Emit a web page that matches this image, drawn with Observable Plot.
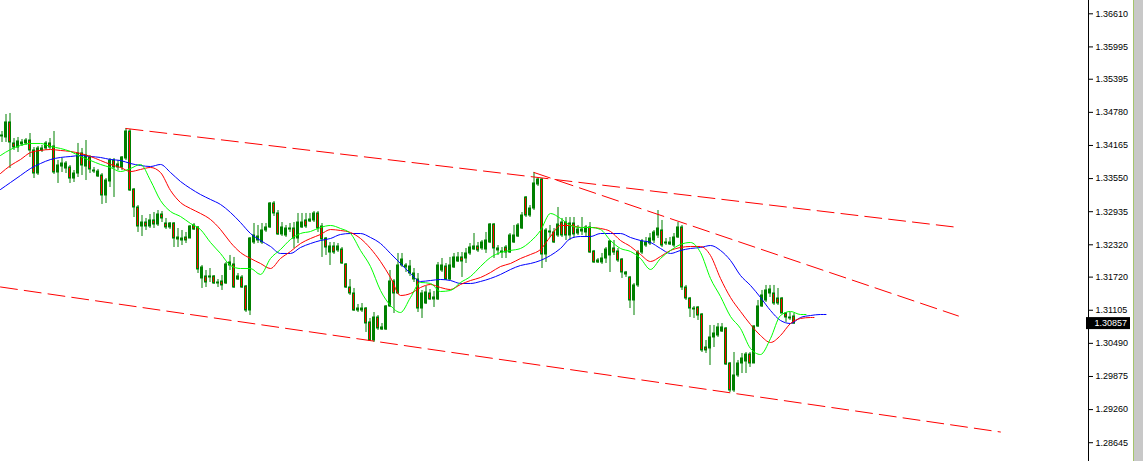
<!DOCTYPE html>
<html><head><meta charset="utf-8">
<script src="https://cdn.jsdelivr.net/npm/d3@7"></script>
<script src="https://cdn.jsdelivr.net/npm/@observablehq/plot@0.6"></script>
<style>
html,body{margin:0;padding:0;background:#fff;}
#wrap{position:relative;width:1143px;height:461px;overflow:hidden;}
#edge{position:absolute;left:1133px;top:0;width:9px;height:461px;background:#c8c8c8;border-left:1px solid #a4c46c;}
</style></head><body><div id="wrap"><div id="edge"></div></div>
<script>
// ---- Candles (bar index 0..198), prices ----
const open = [1.34332,1.34313,1.34592,1.34202,1.34127,1.34183,1.34202,1.34257,1.34072,1.33644,
1.34072,1.34109,1.34202,1.34146,1.33663,1.33774,1.33737,1.33756,1.33551,1.33644,
1.34016,1.33774,1.33942,1.33700,1.33589,1.33607,1.33236,1.33496,1.33886,1.33756,
1.33756,1.33923,1.34424,1.33347,1.33013,1.32660,1.32734,1.32660,1.32772,1.32697,
1.32883,1.32716,1.32642,1.32716,1.32419,1.32437,1.32456,1.32437,1.32679,1.32642,
1.31695,1.31732,1.31713,1.31732,1.31602,1.31639,1.31602,1.31936,1.31955,1.31676,
1.31713,1.31546,1.31100,1.32363,1.32400,1.32363,1.32586,1.32642,1.33087,1.32902,
1.32512,1.32493,1.32604,1.32623,1.32437,1.32642,1.32772,1.32753,1.32772,1.32902,
1.32660,1.32437,1.32177,1.32289,1.32215,1.32233,1.31955,1.31527,1.31416,1.31100,
1.31137,1.31137,1.30878,1.30543,1.30970,1.30747,1.30747,1.31175,1.31639,1.31416,
1.31936,1.31936,1.31787,1.31676,1.31676,1.31137,1.31230,1.31416,1.31305,1.31305,
1.31843,1.31917,1.31676,1.31899,1.32010,1.32085,1.32066,1.32159,1.32233,1.32289,
1.32252,1.32233,1.32363,1.32697,1.32215,1.32177,1.32270,1.32177,1.32363,1.32474,
1.32623,1.33199,1.32864,1.32994,1.33440,1.33533,1.32140,1.32567,1.32549,1.32493,
1.32734,1.32734,1.32493,1.32716,1.32530,1.32567,1.32549,1.32642,1.32196,1.31992,
1.31992,1.32066,1.32122,1.32252,1.32196,1.32047,1.31806,1.31713,1.31286,1.31565,
1.32177,1.32307,1.32344,1.32400,1.32493,1.32586,1.32344,1.32363,1.32307,1.32456,
1.32642,1.31527,1.31323,1.31137,1.31156,1.31026,1.30413,1.30395,1.30599,1.30636,
1.30710,1.30766,1.30116,1.29615,1.29893,1.30116,1.30153,1.30283,1.30116,1.30803,
1.31175,1.31286,1.31416,1.31416,1.31323,1.31323,1.31044,1.30970,1.30989];
const high = [1.34424,1.34740,1.34759,1.34294,1.34313,1.34276,1.34294,1.34387,1.34127,1.34146,
1.34164,1.34239,1.34294,1.34424,1.33886,1.33923,1.33867,1.33793,1.33700,1.34202,
1.34109,1.34257,1.33979,1.33756,1.33719,1.33644,1.33551,1.33923,1.33923,1.33886,
1.33960,1.34480,1.34462,1.33366,1.33050,1.32864,1.32809,1.32883,1.32920,1.32957,
1.32939,1.32809,1.32734,1.32734,1.32623,1.32586,1.32549,1.32679,1.32716,1.32660,
1.31936,1.31843,1.31880,1.31750,1.31676,1.31750,1.31992,1.32122,1.32085,1.31787,
1.31750,1.31565,1.32456,1.32716,1.32679,1.32716,1.32716,1.33106,1.33124,1.32957,
1.32734,1.32679,1.32716,1.32734,1.32902,1.32902,1.32902,1.32902,1.32939,1.32939,
1.32716,1.32456,1.32363,1.32363,1.32344,1.32270,1.31973,1.31676,1.31509,1.31212,
1.31230,1.31156,1.30952,1.31063,1.31007,1.30859,1.31193,1.31843,1.31676,1.32159,
1.32159,1.31973,1.32029,1.31880,1.31787,1.31472,1.31546,1.31490,1.31453,1.31992,
1.32066,1.31973,1.32085,1.32159,1.32177,1.32177,1.32252,1.32344,1.32530,1.32363,
1.32400,1.32549,1.32716,1.32716,1.32307,1.32270,1.32307,1.32530,1.32679,1.32716,
1.32920,1.33217,1.33050,1.33663,1.33570,1.33551,1.32623,1.32679,1.32623,1.33013,
1.32809,1.32827,1.32827,1.32827,1.32679,1.32827,1.32679,1.32734,1.32215,1.32066,
1.32159,1.32270,1.32400,1.32400,1.32252,1.32066,1.31825,1.31732,1.31602,1.32215,
1.32419,1.32456,1.32530,1.32586,1.32957,1.32772,1.32437,1.32456,1.32530,1.32734,
1.32679,1.31565,1.31342,1.31175,1.31175,1.31044,1.30543,1.30822,1.30822,1.30859,
1.30859,1.30785,1.30135,1.30320,1.30172,1.30302,1.30320,1.30320,1.30822,1.31286,
1.31472,1.31565,1.31565,1.31565,1.31509,1.31342,1.31063,1.31063,1.31044];
const low = [1.34220,1.34220,1.33737,1.34072,1.34034,1.34146,1.34164,1.33942,1.33551,1.33607,
1.34034,1.34072,1.34090,1.33626,1.33459,1.33663,1.33644,1.33459,1.33477,1.33570,
1.33607,1.33514,1.33644,1.33644,1.33570,1.33069,1.33087,1.33384,1.33199,1.33700,
1.33700,1.33886,1.33310,1.32827,1.32549,1.32474,1.32586,1.32623,1.32623,1.32660,
1.32734,1.32604,1.32604,1.32270,1.32270,1.32307,1.32344,1.32437,1.32586,1.31787,
1.31509,1.31527,1.31620,1.31583,1.31527,1.31472,1.31583,1.31843,1.31509,1.31657,
1.31509,1.31063,1.31007,1.32326,1.32344,1.32326,1.32549,1.32623,1.32846,1.32493,
1.32474,1.32456,1.32549,1.32252,1.32344,1.32623,1.32623,1.32734,1.32734,1.32549,
1.32085,1.32122,1.31936,1.32140,1.32177,1.31955,1.31509,1.31379,1.31082,1.31063,
1.31063,1.30692,1.30525,1.30506,1.30729,1.30729,1.30729,1.31156,1.31044,1.31397,
1.31899,1.31806,1.31732,1.31620,1.31063,1.30952,1.31212,1.31286,1.31156,1.31286,
1.31806,1.31657,1.31657,1.31880,1.31992,1.31713,1.31973,1.32122,1.32215,1.32177,
1.32215,1.32159,1.32344,1.32066,1.32122,1.32066,1.32066,1.32159,1.32344,1.32456,
1.32604,1.32827,1.32827,1.32957,1.33403,1.31880,1.31992,1.32456,1.32344,1.32456,
1.32456,1.32400,1.32400,1.32456,1.32493,1.32493,1.32456,1.32159,1.31973,1.31973,
1.31955,1.31973,1.31806,1.32122,1.31992,1.31695,1.31713,1.31137,1.31007,1.31527,
1.32140,1.32270,1.32307,1.32344,1.32437,1.32270,1.32307,1.32307,1.32270,1.32437,
1.31472,1.31286,1.30970,1.30952,1.30915,1.30320,1.30302,1.30079,1.30413,1.30599,
1.30692,1.30079,1.29577,1.29577,1.29856,1.29930,1.29930,1.30042,1.30116,1.30785,
1.31156,1.31249,1.31342,1.31193,1.31193,1.31044,1.30878,1.30915,1.30840];
const close = [1.34350,1.34592,1.34220,1.34127,1.34239,1.34220,1.34257,1.34072,1.33644,1.34109,
1.34109,1.34202,1.34127,1.33663,1.33793,1.33830,1.33830,1.33551,1.33644,1.34016,
1.33793,1.33979,1.33719,1.33681,1.33681,1.33236,1.33514,1.33886,1.33756,1.33812,
1.33942,1.34424,1.33329,1.33013,1.32660,1.32734,1.32660,1.32772,1.32697,1.32883,
1.32809,1.32642,1.32716,1.32437,1.32456,1.32400,1.32400,1.32660,1.32604,1.31862,
1.31899,1.31620,1.31732,1.31602,1.31620,1.31565,1.31955,1.31992,1.31527,1.31732,
1.31527,1.31100,1.32437,1.32493,1.32474,1.32586,1.32642,1.33087,1.32902,1.32512,
1.32642,1.32623,1.32623,1.32437,1.32734,1.32734,1.32660,1.32790,1.32902,1.32623,
1.32419,1.32270,1.32289,1.32177,1.32289,1.31973,1.31527,1.31416,1.31100,1.31137,
1.31100,1.30859,1.30543,1.30970,1.30766,1.30785,1.31175,1.31639,1.31416,1.31936,
1.32047,1.31899,1.31917,1.31787,1.31137,1.31416,1.31435,1.31305,1.31342,1.31936,
1.31936,1.31676,1.31936,1.32085,1.32085,1.32010,1.32159,1.32270,1.32289,1.32215,
1.32363,1.32400,1.32697,1.32252,1.32252,1.32196,1.32177,1.32493,1.32493,1.32679,
1.32864,1.32864,1.32994,1.33459,1.33533,1.32140,1.32586,1.32549,1.32363,1.32697,
1.32493,1.32493,1.32716,1.32512,1.32604,1.32604,1.32642,1.32177,1.31992,1.32029,
1.32066,1.32233,1.32382,1.32177,1.32029,1.31806,1.31769,1.31286,1.31565,1.32177,
1.32382,1.32363,1.32437,1.32549,1.32623,1.32307,1.32363,1.32326,1.32456,1.32642,
1.31527,1.31323,1.31137,1.31119,1.31007,1.30358,1.30358,1.30599,1.30673,1.30785,
1.30785,1.30098,1.29615,1.29893,1.30116,1.30209,1.30283,1.30116,1.30803,1.31175,
1.31379,1.31472,1.31490,1.31230,1.31230,1.31044,1.30970,1.30952,1.30857];

// ---- Alligator lines, read every 2.5 bars from bar -0.375; last value sits at the line's end bar ----
const lineStart = -0.375, lineStep = 2.5;
const jawEnd = 206, teethEnd = 203, lipsEnd = 201;
const jawValues = [1.33347,1.33477,1.33607,1.33737,1.33830,1.33904,1.33942,1.33960,1.33979,1.33960,
1.33942,1.33904,1.33886,1.33830,1.33793,1.33774,1.33812,1.33663,1.33496,1.33366,
1.33254,1.33162,1.33069,1.32920,1.32734,1.32530,1.32400,1.32289,1.32159,1.32159,
1.32270,1.32344,1.32400,1.32437,1.32512,1.32530,1.32530,1.32456,1.32344,1.32159,
1.31973,1.31787,1.31639,1.31657,1.31676,1.31657,1.31602,1.31602,1.31639,1.31695,
1.31769,1.31862,1.31936,1.31973,1.32029,1.32122,1.32252,1.32437,1.32474,1.32474,
1.32530,1.32530,1.32530,1.32456,1.32400,1.32363,1.32252,1.32159,1.32215,1.32252,
1.32270,1.32307,1.32215,1.32029,1.31750,1.31565,1.31342,1.31100,1.30915,1.30859,
1.30970,1.31007,1.31026,1.31026];
const teethValues = [1.33644,1.33793,1.33904,1.34034,1.34072,1.34090,1.34072,1.34053,1.34016,1.33960,
1.33886,1.33812,1.33756,1.33681,1.33719,1.33756,1.33663,1.33329,1.33106,1.32994,
1.32902,1.32790,1.32604,1.32363,1.32177,1.32066,1.31973,1.31880,1.32066,1.32196,
1.32344,1.32437,1.32512,1.32604,1.32586,1.32549,1.32437,1.32252,1.32010,1.31713,
1.31379,1.31416,1.31527,1.31583,1.31527,1.31490,1.31583,1.31657,1.31713,1.31806,
1.31917,1.31973,1.32066,1.32140,1.32233,1.32474,1.32679,1.32679,1.32642,1.32642,
1.32623,1.32567,1.32400,1.32289,1.32140,1.32010,1.32103,1.32215,1.32270,1.32289,
1.32289,1.32122,1.31695,1.31342,1.31082,1.30840,1.30636,1.30506,1.30636,1.30859,
1.30952,1.30970,1.30970];
const lipsValues = [1.33979,1.34090,1.34164,1.34202,1.34202,1.34146,1.34109,1.34053,1.33960,1.33886,
1.33812,1.33756,1.33681,1.33737,1.33812,1.33514,1.33143,1.32939,1.32846,1.32716,
1.32604,1.32363,1.32159,1.31936,1.31880,1.31880,1.31769,1.32066,1.32233,1.32419,
1.32530,1.32567,1.32642,1.32679,1.32623,1.32530,1.32215,1.31917,1.31472,1.31193,
1.31063,1.31342,1.31620,1.31602,1.31453,1.31472,1.31620,1.31732,1.31917,1.32085,
1.32177,1.32215,1.32252,1.32382,1.32586,1.32902,1.32809,1.32679,1.32642,1.32642,
1.32604,1.32400,1.32252,1.32196,1.32066,1.31862,1.32066,1.32215,1.32326,1.32363,
1.32177,1.31695,1.31360,1.30989,1.30766,1.30395,1.30283,1.30580,1.31007,1.31082,
1.31026,1.31026];

// ---- Trend lines: [bar, price] anchors ----
const upperChannel = [[31, 1.34480], [239.1, 1.32642]];
const lowerChannel = [[-0.375, 1.31537], [249.6, 1.28844]];
const steepLine = [[133, 1.33663], [239.1, 1.30998]];

// ---- Price axis ----
const priceTicks = [1.36610,1.35995,1.35395,1.34780,1.34165,1.33550,1.32935,1.32320,1.31720,1.31105,1.30490,1.29875,1.29260,1.28645];
const xDomain = [-0.375, 271.625];
const yDomain = [1.28296, 1.36857];

const candles = open.map((o, i) => ({i, o, h: high[i], l: low[i], c: close[i]}));
const toLine = (vals, end) => vals.map((v, i) => ({bar: i === vals.length - 1 ? end : lineStart + i * lineStep, v}));
const jaw = toLine(jawValues, jawEnd), teeth = toLine(teethValues, teethEnd), lips = toLine(lipsValues, lipsEnd);
const trend = (pts, name) => pts.map(([bar, v]) => ({bar, v, name}));
const lastClose = close[close.length - 1];
const GREEN = "#008000";

const chart = Plot.plot({
  width: 1143, height: 461,
  marginLeft: 0, marginRight: 55, marginTop: 0, marginBottom: 0,
  x: {type: "linear", domain: xDomain, axis: null},
  y: {type: "linear", domain: yDomain, axis: null},
  style: {background: "white", fontFamily: "'Liberation Sans', Arial, sans-serif", fontSize: "9px", color: "black"},
  marks: [
    Plot.ruleX(candles, {x: "i", y1: "l", y2: "h", stroke: GREEN, strokeWidth: 1}),
    Plot.rect(candles, {x1: d => d.i - 0.25, x2: d => d.i + 0.25, y1: "o", y2: "c",
      fill: d => d.c < d.o ? "#ff0000" : GREEN, stroke: GREEN, strokeWidth: 1}),
    Plot.line(jaw, {x: "bar", y: "v", stroke: "#0000ff", strokeWidth: 1, curve: "monotone-x"}),
    Plot.line(teeth, {x: "bar", y: "v", stroke: "#ff0000", strokeWidth: 1, curve: "monotone-x"}),
    Plot.line(lips, {x: "bar", y: "v", stroke: "#00ff00", strokeWidth: 1, curve: "monotone-x"}),
    Plot.line([...trend(upperChannel, "u"), ...trend(lowerChannel, "l"), ...trend(steepLine, "s")],
      {x: "bar", y: "v", z: "name", stroke: "#ff0000", strokeWidth: 1, strokeDasharray: "17,7"}),
    Plot.ruleX([xDomain[1]], {stroke: "black", strokeWidth: 1}),
    Plot.axisY(priceTicks, {anchor: "right", tickSize: 4, tickPadding: 3, tickFormat: d3.format(".5f"), fill: "black", stroke: "black"}),
    Plot.rect([lastClose], {x1: () => xDomain[1], x2: () => xDomain[1], y1: d => d, y2: d => d,
      insetLeft: -2, insetRight: -42, insetTop: -6, insetBottom: -6, fill: "black"}),
    Plot.text([lastClose], {x: () => xDomain[1], y: d => d, text: d => d3.format(".5f")(d), dx: 6, textAnchor: "start", fill: "white"})
  ]
});
document.getElementById("wrap").prepend(chart);
</script>
</body></html>
